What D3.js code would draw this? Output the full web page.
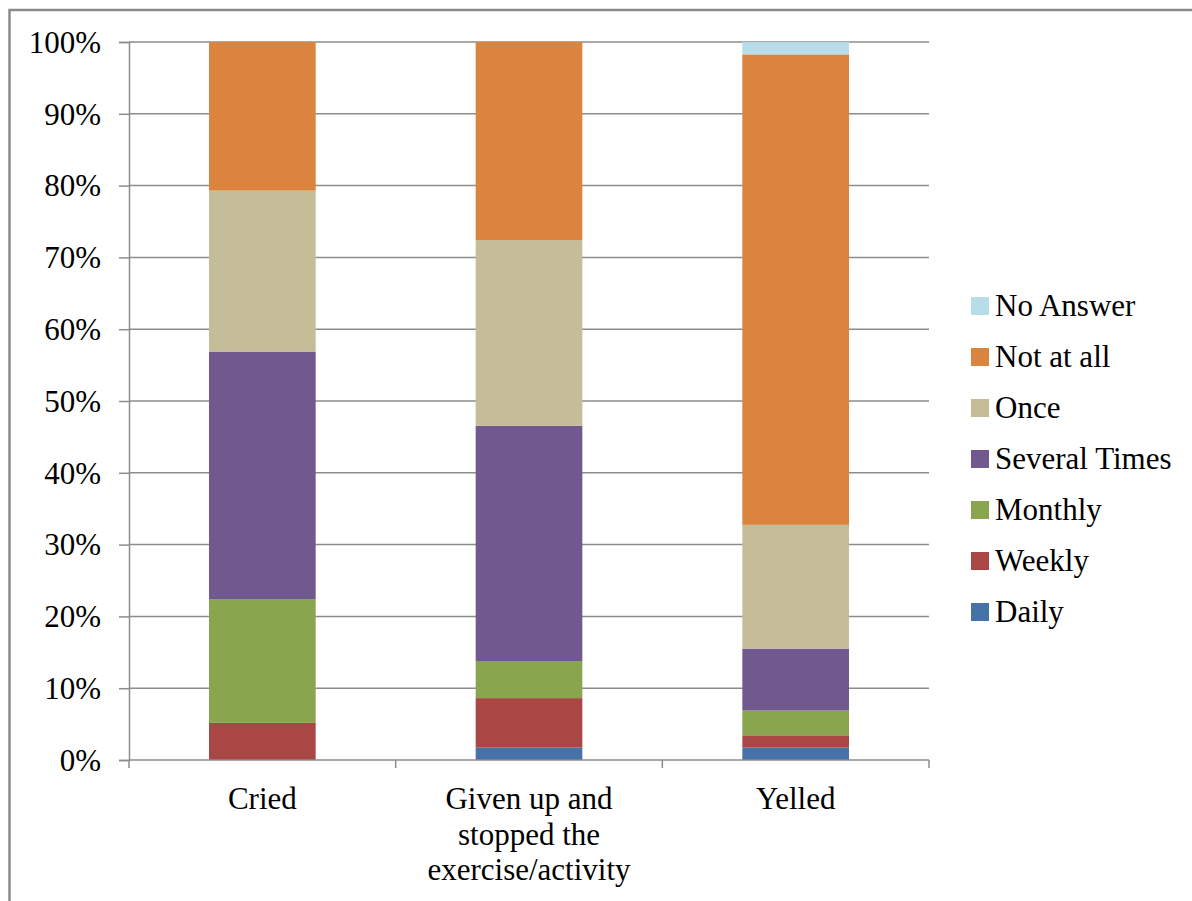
<!DOCTYPE html>
<html>
<head>
<meta charset="utf-8">
<script src="https://cdn.jsdelivr.net/npm/d3@7"></script>
<style>
  html, body { margin: 0; padding: 0; background: #fff; }
  svg { display: block; }
</style>
</head>
<body>
<svg id="chart" width="1192" height="901"></svg>
<script>
// Behaviours reported, stacked as share of respondents (%)
const categories = ["Cried", "Given up and stopped the exercise/activity", "Yelled"];
const categoryLines = [["Cried"], ["Given up and", "stopped the", "exercise/activity"], ["Yelled"]];

const seriesNames = ["Daily", "Weekly", "Monthly", "Several Times", "Once", "Not at all", "No Answer"];
const daily        = [0,     1.72,  1.72];
const weekly       = [5.17,  6.90,  1.72];
const monthly      = [17.24, 5.17,  3.45];
const severalTimes = [34.48, 32.76, 8.62];
const once         = [22.41, 25.86, 17.24];
const notAtAll     = [20.69, 27.59, 65.52];
const noAnswer     = [0,     0,     1.72];

const yTicks = [0, 10, 20, 30, 40, 50, 60, 70, 80, 90, 100];
const colors = ["#4572A7", "#AA4643", "#89A54E", "#71588F", "#C4BD97", "#DB843D", "#B7DEE8"];

const seriesValues = [daily, weekly, monthly, severalTimes, once, notAtAll, noAnswer];
const rows = categories.map((c, i) => {
  const r = { category: c };
  seriesNames.forEach((s, k) => { r[s] = seriesValues[k][i]; });
  return r;
});

const FONT = '"Liberation Serif", "Times New Roman", serif';
const FONT_SIZE = "31px";
const svg = d3.select("#chart");
const gridColor = "#8c8c8c";

function serifText(sel) {
  return sel.attr("font-family", FONT).style("font-family", FONT)
    .style("font-size", FONT_SIZE).attr("fill", "#000");
}

// outer chart frame
svg.append("rect")
  .attr("x", 9.5).attr("y", 10).attr("width", 1300).attr("height", 1000)
  .attr("fill", "none").attr("stroke", "#8a8a8a").attr("stroke-width", 2.5);

const plotLeft = 129, plotRight = 929, plotTop = 42, plotBottom = 760;

const x = d3.scaleBand().domain(categories).range([plotLeft, plotRight])
  .paddingInner(0.6).paddingOuter(0.3);
const y = d3.scaleLinear().domain([0, 100]).range([plotBottom, plotTop]);

// horizontal gridlines
svg.append("g").selectAll("line").data(yTicks.filter(t => t > 0)).join("line")
  .attr("x1", plotLeft).attr("x2", plotRight)
  .attr("y1", d => y(d)).attr("y2", d => y(d))
  .attr("stroke", gridColor).attr("stroke-width", 1.5);

// value axis
const yAxis = d3.axisLeft(y).tickValues(yTicks).tickSize(10).tickPadding(18)
  .tickFormat(d => d + "%");
const gy = svg.append("g").attr("transform", `translate(${plotLeft},0)`).call(yAxis)
  .attr("font-family", FONT).attr("font-size", 31);
gy.select(".domain").attr("stroke", gridColor).attr("stroke-width", 1.5);
gy.selectAll(".tick line").attr("stroke", gridColor).attr("stroke-width", 1.5);
serifText(gy.selectAll(".tick text")).attr("dy", "0.33em");

// stacked bars
const stack = d3.stack().keys(seriesNames);
const layers = stack(rows);
svg.append("g").selectAll("g").data(layers).join("g")
  .attr("fill", (d, i) => colors[i])
  .selectAll("rect").data(d => d).join("rect")
  .attr("x", d => x(d.data.category))
  .attr("width", x.bandwidth())
  .attr("y", d => y(d[1]))
  .attr("height", d => y(d[0]) - y(d[1]));

// category axis
const step = x.step();
const boundaries = d3.range(categories.length + 1).map(i => plotLeft + i * step);
const gx = svg.append("g");
gx.append("line").attr("x1", plotLeft).attr("x2", plotRight).attr("y1", plotBottom).attr("y2", plotBottom)
  .attr("stroke", gridColor).attr("stroke-width", 1.5);
gx.selectAll("line.tick").data(boundaries).join("line").attr("class", "tick")
  .attr("x1", d => d).attr("x2", d => d).attr("y1", plotBottom).attr("y2", plotBottom + 8)
  .attr("stroke", gridColor).attr("stroke-width", 1.5);
const labels = serifText(gx.selectAll("text").data(categories).join("text"))
  .attr("text-anchor", "middle")
  .attr("x", d => x(d) + x.bandwidth() / 2)
  .attr("y", 809);
labels.each(function(d, i) {
  d3.select(this).selectAll("tspan").data(categoryLines[i]).join("tspan")
    .attr("x", x(d) + x.bandwidth() / 2)
    .attr("dy", (t, j) => j === 0 ? 0 : 35.5)
    .text(t => t);
});

// legend, top entry is the last stacked series
const legendItems = seriesNames.slice().reverse();
const legend = svg.append("g").attr("transform", "translate(971,306)");
const item = legend.selectAll("g").data(legendItems).join("g")
  .attr("transform", (d, i) => `translate(0,${i * 51})`);
item.append("rect")
  .attr("x", 0).attr("y", -9).attr("width", 18).attr("height", 18)
  .attr("fill", d => colors[seriesNames.indexOf(d)]);
serifText(item.append("text"))
  .attr("x", 24).attr("y", 0).attr("dy", "0.33em")
  .text(d => d);
</script>
</body>
</html>
